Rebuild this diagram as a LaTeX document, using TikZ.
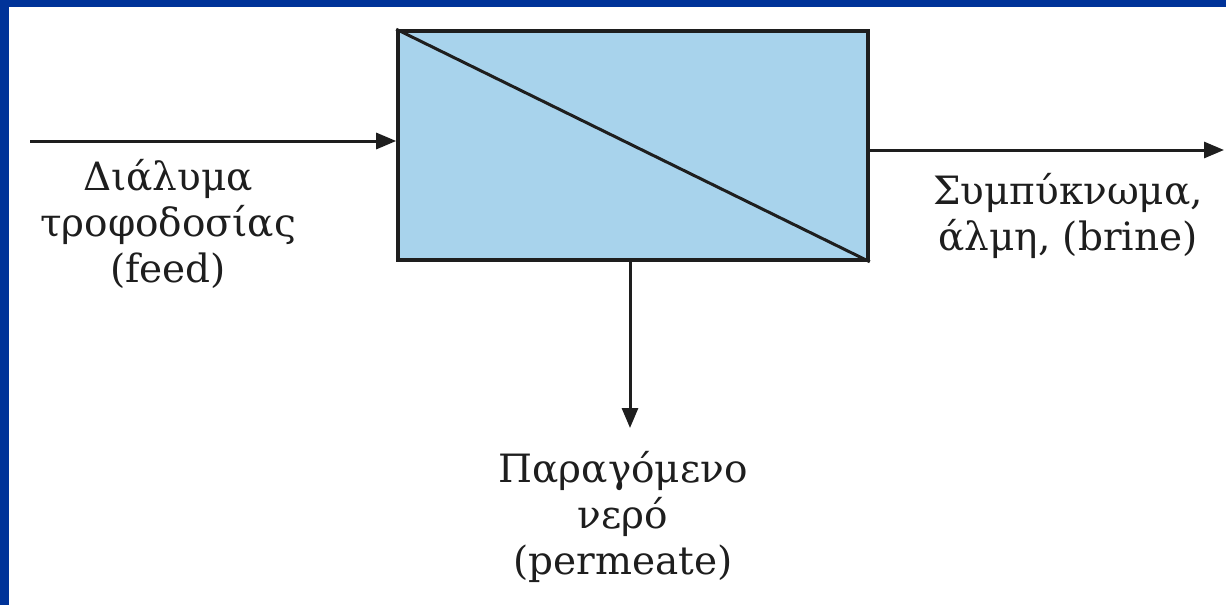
\documentclass[tikz,border=0pt]{standalone}
\usepackage{fontspec}
\setmainfont{DejaVu Serif}
\usetikzlibrary{arrows.meta}
\definecolor{frameblue}{HTML}{003399}
\definecolor{membrane}{HTML}{A8D3EC}
\definecolor{ink}{HTML}{1E1E1E}
\tikzset{
  flow/.style={draw=ink, line width=1.5pt, -{Triangle[length=10pt,width=8pt]}},
  label/.style={align=center, inner sep=0pt, text=ink, font=\fontsize{19.5}{23}\selectfont},
  membox/.style={draw=ink, line width=1.8pt, fill=membrane, minimum width=235pt, minimum height=114.5pt, inner sep=0pt}
}
\begin{document}
\begin{tikzpicture}[x=0.5pt,y=-0.5pt]
\useasboundingbox (0,0) rectangle (1226,605);
\fill[frameblue] (0,0) rectangle (1226,605);
\fill[white] (9,7) rectangle (1226,605);
\node[membox] (mem) at (633,145.5) {};
\draw[ink, line width=1.5pt] (mem.north west) -- (mem.south east);
\coordinate (feedstart) at (30,141);
\coordinate (brineend) at (1224,150);
\coordinate (permend) at (630,428);
\draw[flow] (feedstart) -- (feedstart -| mem.west);
\draw[flow] (mem.east |- brineend) -- (brineend);
\draw[flow] (permend |- mem.south) -- (permend);
\node[label] (feedlbl) at (168,224) {Διάλυμα\\τροφοδοσίας\\(feed)};
\node[label] (brinelbl) at (1068,216) {Συμπύκνωμα,\\άλμη, (brine)};
\node[label] (permlbl) at (623,517) {Παραγόμενο\\νερό\\(permeate)};
\end{tikzpicture}
\end{document}
